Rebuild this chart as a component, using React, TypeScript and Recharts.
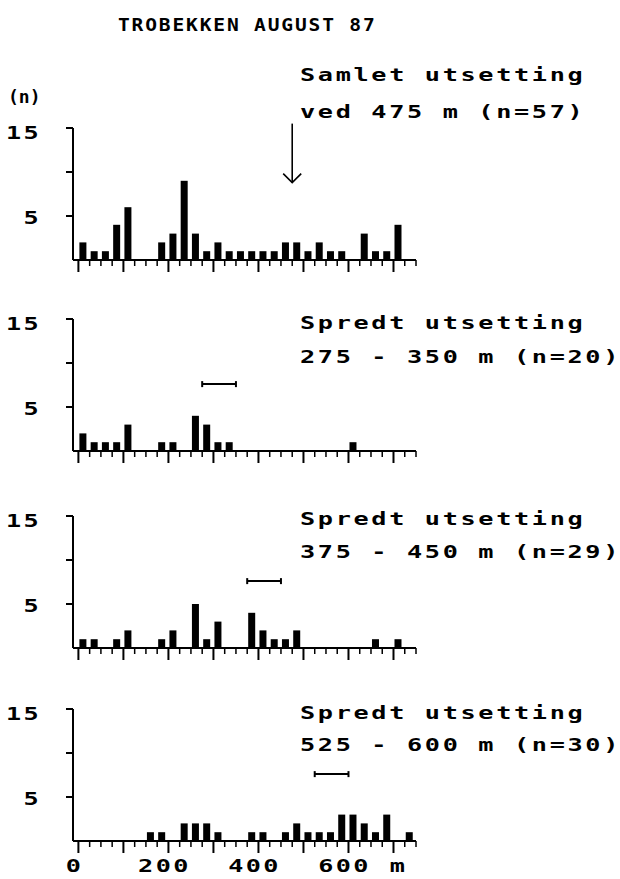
import React from "react";
import { BarChart, Bar, XAxis, YAxis, ReferenceLine } from "recharts";

// 25 m bins along the stream
const BINS = [
  0, 25, 50, 75, 100, 125, 150, 175, 200, 225, 250, 275, 300, 325, 350,
  375, 400, 425, 450, 475, 500, 525, 550, 575, 600, 625, 650, 675, 700, 725,
];
const X_TICKS = [
  0, 25, 50, 75, 100, 125, 150, 175, 200, 225, 250, 275, 300, 325, 350,
  375, 400, 425, 450, 475, 500, 525, 550, 575, 600, 625, 650, 675, 700, 725, 750,
];
const X_LABELS: Record<number, string> = { 0: "0", 200: "200", 400: "400", 600: "600", 700: "m" };
const Y_TICKS = [5, 10, 15];
const Y_LABELS: Record<number, string> = { 5: "5", 15: "15" };

// antall fisk per bin
const SAMLET = [2, 1, 1, 4, 6, 0, 0, 2, 3, 9, 3, 1, 2, 1, 1, 1, 1, 1, 2, 2, 1, 2, 1, 1, 0, 3, 1, 1, 4, 0];
const SPREDT_275 = [2, 1, 1, 1, 3, 0, 0, 1, 1, 0, 4, 3, 1, 1, 0, 0, 0, 0, 0, 0, 0, 0, 0, 0, 1, 0, 0, 0, 0, 0];
const SPREDT_375 = [1, 1, 0, 1, 2, 0, 0, 1, 2, 0, 5, 1, 3, 0, 0, 4, 2, 1, 1, 2, 0, 0, 0, 0, 0, 0, 1, 0, 1, 0];
const SPREDT_525 = [0, 0, 0, 0, 0, 0, 1, 1, 0, 2, 2, 2, 1, 0, 0, 1, 1, 0, 1, 2, 1, 1, 1, 3, 3, 2, 1, 3, 0, 1];

const SAMLET_POINT = 475;
const RANGE_275 = [275, 350];
const RANGE_375 = [375, 450];
const RANGE_525 = [525, 600];

const AXIS_LEFT = 73;
const TOP_PAD = 12;
const PLOT_H = 132;

const PANELS = [
  { values: SAMLET, top: 128, lines: ["Samlet utsetting", "ved 475 m (n=57)"], lineY: [75, 112], range: null, arrow: SAMLET_POINT, showX: false },
  { values: SPREDT_275, top: 319, lines: ["Spredt utsetting", "275 - 350 m (n=20)"], lineY: [323, 357], range: RANGE_275, arrow: null, showX: false },
  { values: SPREDT_375, top: 516, lines: ["Spredt utsetting", "375 - 450 m (n=29)"], lineY: [519, 552], range: RANGE_375, arrow: null, showX: false },
  { values: SPREDT_525, top: 709, lines: ["Spredt utsetting", "525 - 600 m (n=30)"], lineY: [713, 745], range: RANGE_525, arrow: null, showX: true },
];

const svgFont: React.CSSProperties = {
  fontFamily: '"DejaVu Sans Mono", monospace',
  fontWeight: 700,
  fontSize: 18,
  letterSpacing: 1.7,
  fill: "#000",
};

const noteStyle: React.CSSProperties = {
  position: "absolute",
  fontFamily: '"DejaVu Sans Mono", monospace',
  fontWeight: 700,
  fontSize: 18,
  letterSpacing: 1.9,
  lineHeight: "20px",
  whiteSpace: "pre",
  transform: "scaleX(1.4)",
  transformOrigin: "0 50%",
  color: "#000",
};

const YTick = (props: any) => {
  const { y, payload } = props;
  const label = Y_LABELS[payload.value];
  const dy = payload.value === 15 ? 10.5 : 7.5;
  return (
    <g>
      <line x1={AXIS_LEFT - 7} x2={AXIS_LEFT} y1={y} y2={y} stroke="#000" strokeWidth={2} />
      {label && (
        <text transform={`translate(41, ${y + dy}) scale(1.4, 1)`} textAnchor="end" style={svgFont}>
          {label}
        </text>
      )}
    </g>
  );
};

const makeXTick = (showLabels: boolean) => (props: any) => {
  const { x, y, payload } = props;
  const v = payload.value;
  const major = v % 100 === 0;
  const label = showLabels ? X_LABELS[v] : undefined;
  const shift = v === 700 ? 5 : -4;
  return (
    <g>
      <line x1={x} x2={x} y1={y} y2={y + (major ? 12 : 6)} stroke="#000" strokeWidth={major ? 2 : 1.5} />
      {label && (
        <text transform={`translate(${x + shift}, ${y + 31}) scale(1.4, 1)`} textAnchor="middle" style={svgFont}>
          {label}
        </text>
      )}
    </g>
  );
};

const BarShape = (props: any) => {
  const { x, y, width, height } = props;
  if (!height || height <= 0) return <g />;
  const cx = x + width / 2 - 1;
  return <rect x={cx - 3.5} y={y} width={7} height={height} fill="#000" />;
};

const RangeShape = (props: any) => {
  const { x1, y1, x2, y2 } = props;
  return (
    <g stroke="#000" strokeWidth={2}>
      <line x1={x1} y1={y1} x2={x2} y2={y2} />
      <line x1={x1} x2={x1} y1={y1 - 3} y2={y1 + 3} />
      <line x1={x2} x2={x2} y1={y2 - 3} y2={y2 + 3} />
    </g>
  );
};

const ArrowShape = (props: any) => {
  const { x1, y1, x2, y2 } = props;
  const tipY = Math.max(y1, y2);
  const tipX = y1 > y2 ? x1 : x2;
  return (
    <g stroke="#000" strokeWidth={1.6} fill="none">
      <line x1={x1} y1={y1} x2={x2} y2={y2} />
      <polyline points={`${tipX - 9},${tipY - 9} ${tipX},${tipY} ${tipX + 9},${tipY - 9}`} />
    </g>
  );
};

function Panel({ p }: { p: (typeof PANELS)[number] }) {
  const data = BINS.map((b, i) => ({ mid: b + 12.5, n: p.values[i] }));
  const xH = p.showX ? 40 : 16;
  return (
    <div style={{ position: "absolute", left: 0, top: p.top - TOP_PAD }}>
      <BarChart width={426} height={TOP_PAD + PLOT_H + xH} data={data} margin={{ top: TOP_PAD, right: 10, left: 0, bottom: 0 }}>
        <XAxis
          dataKey="mid"
          type="number"
          domain={[-12, 750]}
          allowDataOverflow
          ticks={X_TICKS}
          interval={0}
          height={xH}
          tickLine={false}
          tickSize={0}
          tickMargin={0}
          axisLine={{ stroke: "#000", strokeWidth: 2 }}
          tick={makeXTick(p.showX)}
        />
        <YAxis
          type="number"
          domain={[0, 15]}
          ticks={Y_TICKS}
          interval={0}
          width={AXIS_LEFT}
          tickLine={false}
          tickSize={0}
          axisLine={{ stroke: "#000", strokeWidth: 2 }}
          tick={<YTick />}
        />
        <Bar dataKey="n" fill="#000" barSize={7} shape={BarShape} isAnimationActive={false} />
        {p.range && (
          <ReferenceLine
            segment={[{ x: p.range[0], y: 7.6 }, { x: p.range[1], y: 7.6 }]}
            ifOverflow="visible"
            shape={RangeShape}
          />
        )}
        {p.arrow !== null && (
          <ReferenceLine
            segment={[{ x: p.arrow, y: 15.5 }, { x: p.arrow, y: 8.8 }]}
            ifOverflow="visible"
            shape={ArrowShape}
          />
        )}
      </BarChart>
      {p.lines.map((t, i) => (
        <div key={i} style={{ ...noteStyle, left: 300, top: p.lineY[i] - 10 - (p.top - TOP_PAD) }}>
          {t}
        </div>
      ))}
    </div>
  );
}

export default function App() {
  return (
    <div style={{ position: "absolute", left: 0, top: 0, width: 620, height: 879, background: "#fff", overflow: "hidden" }}>
      <div
        style={{
          ...noteStyle,
          left: 118,
          top: 15,
          fontSize: 17,
          letterSpacing: 1.6,
          transform: "scaleX(1.15)",
        }}
      >
        TROBEKKEN AUGUST 87
      </div>
      <div style={{ ...noteStyle, left: 8, top: 87, letterSpacing: 0, transform: "none" }}>(n)</div>
      {PANELS.map((p, i) => (
        <Panel key={i} p={p} />
      ))}
    </div>
  );
}
